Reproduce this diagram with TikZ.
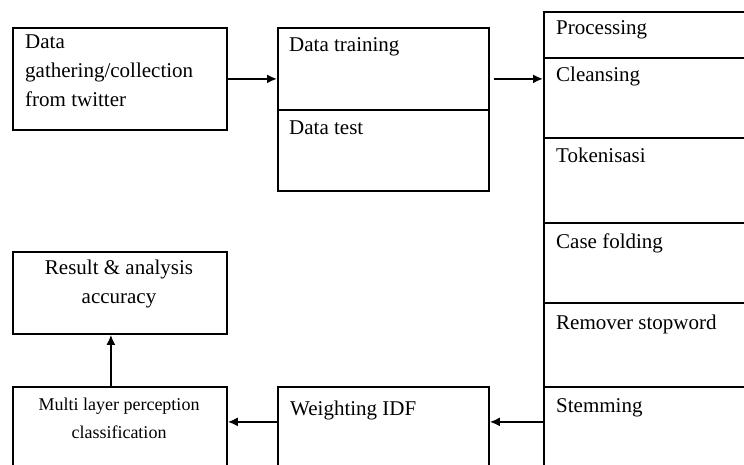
\documentclass[tikz,border=0pt]{standalone}
\usepackage{fontspec}
\setmainfont{Liberation Serif}
\usetikzlibrary{arrows.meta}

\begin{document}
\begin{tikzpicture}[x=1pt,y=-1pt]
   \tikzstyle{box}=[draw, line width=1.8pt, anchor=north west, inner sep=0pt, minimum width=211pt]
   \tikzstyle{cell}=[box, minimum width=240pt]
   \tikzstyle{txt}=[anchor=base west, inner sep=0pt, align=left, font=\fontsize{21}{29}\selectfont]
   \tikzstyle{arr}=[line width=1.8pt, -{Latex[length=10pt,width=9pt]}]

\useasboundingbox (0,0) rectangle (744,465);
\clip (0,0) rectangle (744,465);

\node[box, minimum width=214pt, minimum height=102pt] (gather) at (12,27) {};
\node[box, minimum height=82pt] (train) at (277,27) {};
\node[box, minimum height=81pt] (test) at (277,109) {};

\node[cell, minimum height=46pt] (proc) at (543,11) {};
\node[cell, minimum height=80pt] (clean) at (543,57) {};
\node[cell, minimum height=85pt] (token) at (543,137) {};
\node[cell, minimum height=80pt] (fold) at (543,222) {};
\node[cell, minimum height=84pt] (stop) at (543,302) {};
\node[cell, minimum height=100pt] (stem) at (543,386) {};

\node[box, minimum width=214pt, minimum height=82pt] (result) at (12,251) {};
\node[box, minimum width=214pt, minimum height=100pt] (mlp) at (12,386) {};
\node[box, minimum height=100pt] (weight) at (277,386) {};

\node[txt] (gathertxt) at (25,107) {Data\\gathering/collection\\from twitter};
\node[txt] (traintxt) at (289,52) {Data training};
\node[txt] (testtxt) at (289,135) {Data test};
\node[txt] (proctxt) at (556,35) {Processing};
\node[txt] (cleantxt) at (556,82) {Cleansing};
\node[txt] (tokentxt) at (556,163) {Tokenisasi};
\node[txt] (foldtxt) at (556,248) {Case folding};
\node[txt] (stoptxt) at (556,329) {Remover stopword};
\node[txt] (stemtxt) at (556,412) {Stemming};
\node[txt] (weighttxt) at (290,415) {Weighting IDF};
\node[txt, anchor=base, align=center] (resulttxt) at (119,303) {Result \& analysis\\accuracy};
\node[txt, anchor=base, align=center, font=\fontsize{18}{28}\selectfont] (mlptxt) at (119,438) {Multi layer perception\\classification};

\draw[arr] (gather.east) -- (gather.east -| train.west);
\draw[arr, shorten <=4pt] (gather.east -| train.east) -- (gather.east -| clean.west);
\draw[arr] ([yshift=15pt]stem.west) -- ([yshift=15pt]weight.east);
\draw[arr] ([yshift=15pt]weight.west) -- ([yshift=15pt]mlp.east);
\draw[arr] ([xshift=-9pt]mlp.north) -- ([xshift=-9pt]result.south);

\end{tikzpicture}
\end{document}
